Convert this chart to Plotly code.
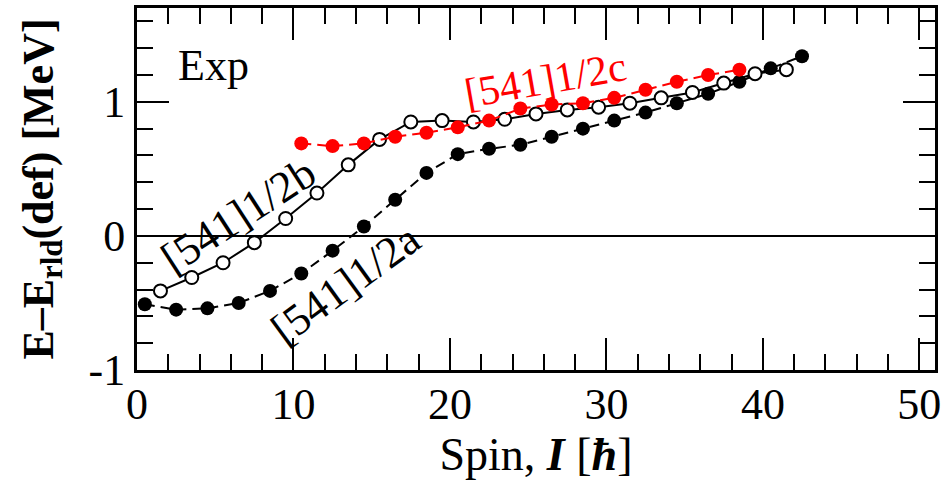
import plotly.graph_objects as go

# Data
spin_a = [0.5, 2.5, 4.5, 6.5, 8.5, 10.5, 12.5, 14.5, 16.5, 18.5, 20.5,
          22.5, 24.5, 26.5, 28.5, 30.5, 32.5, 34.5, 36.5, 38.5, 40.5, 42.5]
e_a = [-0.51, -0.55, -0.54, -0.50, -0.41, -0.28, -0.11, 0.07, 0.27, 0.47, 0.61,
       0.65, 0.68, 0.74, 0.80, 0.86, 0.92, 0.99, 1.06, 1.15, 1.25, 1.34]

spin_b = [1.5, 3.5, 5.5, 7.5, 9.5, 11.5, 13.5, 15.5, 17.5, 19.5, 21.5,
          23.5, 25.5, 27.5, 29.5, 31.5, 33.5, 35.5, 37.5, 39.5, 41.5]
e_b = [-0.41, -0.31, -0.20, -0.05, 0.13, 0.32, 0.53, 0.72, 0.85, 0.86, 0.85,
       0.87, 0.91, 0.94, 0.96, 0.99, 1.03, 1.07, 1.14, 1.21, 1.24]

spin_c = [10.5, 12.5, 14.5, 16.5, 18.5, 20.5, 22.5, 24.5, 26.5, 28.5,
          30.5, 32.5, 34.5, 36.5, 38.5]
e_c = [0.69, 0.67, 0.69, 0.74, 0.77, 0.81, 0.86, 0.95, 0.98, 0.99,
       1.03, 1.09, 1.15, 1.20, 1.24]

x_ticks = [0, 10, 20, 30, 40, 50]
x_ticktext = ["0", "10", "20", "30", "40", "50"]
y_ticks = [-1, 0, 1]
y_ticktext = ["-1", "0", "1"]

FONT = "Liberation Serif"

fig = go.Figure()

fig.add_trace(go.Scatter(
    x=spin_a, y=e_a, mode="lines+markers",
    line=dict(color="black", width=2, dash="10px,6px"),
    marker=dict(symbol="circle", size=14, color="black"),
    showlegend=False))
fig.add_trace(go.Scatter(
    x=spin_b, y=e_b, mode="lines+markers",
    line=dict(color="black", width=2),
    marker=dict(symbol="circle", size=13, color="white",
                line=dict(color="black", width=2)),
    showlegend=False))
fig.add_trace(go.Scatter(
    x=spin_c, y=e_c, mode="lines+markers",
    line=dict(color="#ff0000", width=2, dash="10px,6px"),
    marker=dict(symbol="circle", size=14, color="#ff0000"),
    showlegend=False))

fig.add_shape(type="line", xref="paper", x0=0, x1=1, yref="y", y0=0, y1=0,
              line=dict(color="black", width=2), layer="below")

fig.add_annotation(x=4.9, y=1.27, text="Exp", showarrow=False,
                   font=dict(family=FONT, size=44, color="black"))
fig.add_annotation(x=6.5, y=0.15, text="[541]1/2b", showarrow=False,
                   textangle=-33,
                   font=dict(family=FONT, size=44, color="black"))
fig.add_annotation(x=13.3, y=-0.36, text="[541]1/2a", showarrow=False,
                   textangle=-36,
                   font=dict(family=FONT, size=44, color="black"))
fig.add_annotation(x=26.1, y=1.16, text="[541]1/2c", showarrow=False,
                   textangle=-10,
                   font=dict(family=FONT, size=42, color="#ff0000"))

axis_common = dict(
    showline=True, linecolor="black", linewidth=3, mirror="ticks",
    ticks="inside", ticklen=32, tickwidth=2, tickcolor="black",
    showgrid=False, zeroline=False, automargin=False,
    tickfont=dict(family=FONT, size=44, color="black"),
)

fig.update_xaxes(
    range=[0, 51], tickmode="array", tickvals=x_ticks, ticktext=x_ticktext,
    minor=dict(ticks="inside", ticklen=16, tickwidth=2, tickcolor="black", dtick=2, tick0=0),
    ticklabelstandoff=-7,
    title=dict(text="Spin, <b><i>I</i></b> [<b><i>ħ</i></b>]",
               font=dict(family=FONT, size=46, color="black"), standoff=2),
    **axis_common)
fig.update_yaxes(
    range=[-1, 1.7], tickmode="array", tickvals=y_ticks, ticktext=y_ticktext,
    minor=dict(ticks="inside", ticklen=16, tickwidth=2, tickcolor="black", dtick=0.2, tick0=0),
    title=dict(text="<b>E–E<sub>rld</sub>(def) [MeV]</b>",
               font=dict(family=FONT, size=44, color="black"), standoff=22),
    **axis_common)

fig.update_layout(
    width=945, height=484,
    margin=dict(l=137, r=10, t=8, b=114, autoexpand=False),
    paper_bgcolor="white", plot_bgcolor="white",
)

fig.write_html("out.html", config={"displayModeBar": False},
               post_script="document.body.style.margin='0';")
